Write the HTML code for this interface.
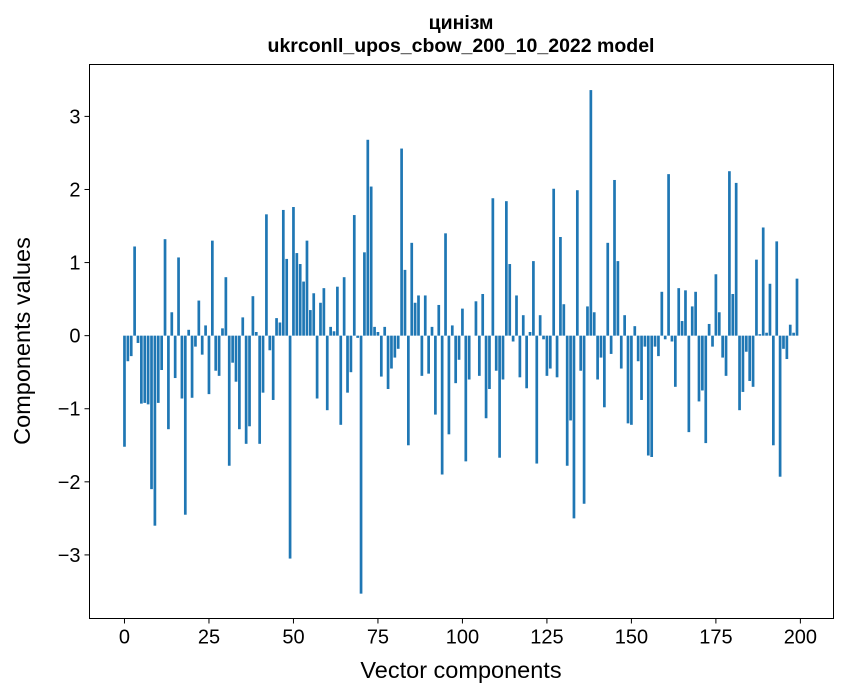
<!DOCTYPE html>
<html><head><meta charset="utf-8"><style>
body{margin:0;background:#fff;}
svg{display:block;font-family:"Liberation Sans","DejaVu Sans",sans-serif;}
</style></head><body>
<svg id="chart" width="847" height="696" viewBox="0 0 847 696" xmlns="http://www.w3.org/2000/svg">
<rect width="847" height="696" fill="#fff"/>
<text x="461" y="29" text-anchor="middle" style="font-size:19.5px;font-weight:bold">цинізм</text>
<text x="461" y="52" text-anchor="middle" style="font-size:19.5px;font-weight:bold">ukrconll_upos_cbow_200_10_2022 model</text>
<g id="bars"></g>
<g id="axes"></g>
<rect x="89.5" y="64.5" width="744" height="554" fill="none" stroke="#000" stroke-width="1"/>
<text x="461" y="678" text-anchor="middle" style="font-size:23.5px">Vector components</text>
<text transform="translate(30,341) rotate(-90)" text-anchor="middle" style="font-size:23.5px">Components values</text>
</svg>
<script>
const values = [-1.52,-0.35,-0.28,1.22,-0.1,-0.93,-0.92,-0.94,-2.1,-2.6,
-0.92,-0.47,1.32,-1.28,0.32,-0.58,1.07,-0.86,-2.45,0.08,
-0.85,-0.15,0.48,-0.26,0.14,-0.8,1.3,-0.48,-0.55,0.1,
0.8,-1.78,-0.37,-0.63,-1.28,0.25,-1.48,-1.24,0.54,0.05,
-1.48,-0.78,1.66,-0.2,-0.88,0.24,0.18,1.72,1.05,-3.05,
1.76,1.13,0.98,0.74,1.3,0.35,0.58,-0.86,0.45,0.65,
-1.02,0.12,0.06,0.67,-1.22,0.8,-0.78,-0.5,1.65,-0.03,
-3.53,1.14,2.68,2.04,0.12,0.05,-0.56,0.12,-0.73,-0.45,
-0.3,-0.18,2.56,0.9,-1.5,1.27,0.45,0.55,-0.55,0.55,
-0.52,0.12,-1.08,0.42,-1.9,1.4,-1.35,0.14,-0.65,-0.33,
0.37,-1.72,-0.6,0.0,0.47,-0.55,0.57,-1.13,-0.73,1.88,
-0.48,-1.67,-0.6,1.84,0.98,-0.08,0.55,-0.57,0.28,-0.72,
0.05,1.02,-1.75,0.28,-0.05,-0.55,-0.45,2.01,-0.57,1.35,
0.43,-1.78,-1.16,-2.5,1.99,-0.48,-2.3,0.4,3.36,0.32,
-0.6,-0.3,-0.98,1.27,-0.25,2.13,1.02,-0.45,0.28,-1.2,
-1.22,0.13,-0.35,-0.88,-0.15,-1.64,-1.66,-0.15,-0.28,0.6,
-0.05,2.21,-0.08,-0.7,0.65,0.2,0.62,-1.32,0.4,0.6,
-0.9,-0.75,-1.47,0.16,-0.15,0.84,0.32,-0.3,-0.55,2.25,
0.57,2.09,-1.02,-0.77,-0.22,-0.62,-0.7,1.04,0.02,1.48,
0.04,0.71,-1.5,1.29,-1.93,-0.18,-0.32,0.15,0.04,0.78];
const xTicks = [0,25,50,75,100,125,150,175,200];
const yTicks = [-3,-2,-1,0,1,2,3];

const NS="http://www.w3.org/2000/svg";
const X0=89.5, X1=833.5, Y0=64.5, Y1=618.5;
const xMin=-10.35, xMax=209.8, yMin=-3.87, yMax=3.71;
const xs = v => X0 + (v - xMin)/(xMax - xMin)*(X1 - X0);
const ys = v => Y1 - (v - yMin)/(yMax - yMin)*(Y1 - Y0);
const bars=document.getElementById('bars');
const bw = xs(0.8)-xs(0);
values.forEach((v,i)=>{
  const r=document.createElementNS(NS,'rect');
  const y=Math.min(ys(v),ys(0)), h=Math.abs(ys(v)-ys(0));
  r.setAttribute('x',xs(i)-bw/2);
  r.setAttribute('y',y);
  r.setAttribute('width',bw);
  r.setAttribute('height',Math.max(h,0.01));
  r.setAttribute('fill','#1f77b4');
  
  
  bars.appendChild(r);
});
const axes=document.getElementById('axes');
xTicks.forEach(t=>{
  const l=document.createElementNS(NS,'line');
  l.setAttribute('x1',xs(t));l.setAttribute('x2',xs(t));
  l.setAttribute('y1',Y1);l.setAttribute('y2',Y1+5);
  l.setAttribute('stroke','#000');
  
  
  axes.appendChild(l);
  const tx=document.createElementNS(NS,'text');
  tx.setAttribute('x',xs(t));tx.setAttribute('y',Y1+25);
  tx.setAttribute('text-anchor','middle');
  tx.setAttribute('style','font-size:20px');
  tx.textContent=t;
  
  
  axes.appendChild(tx);
});
yTicks.forEach(t=>{
  const l=document.createElementNS(NS,'line');
  l.setAttribute('x1',X0-5);l.setAttribute('x2',X0);
  l.setAttribute('y1',ys(t));l.setAttribute('y2',ys(t));
  l.setAttribute('stroke','#000');
  
  
  axes.appendChild(l);
  const tx=document.createElementNS(NS,'text');
  tx.setAttribute('x',X0-9);tx.setAttribute('y',ys(t)+7);
  tx.setAttribute('text-anchor','end');
  tx.setAttribute('style','font-size:20px');
  tx.textContent=t<0?'\u2212'+Math.abs(t):String(t);
  
  
  axes.appendChild(tx);
});
</script>
</body></html>
